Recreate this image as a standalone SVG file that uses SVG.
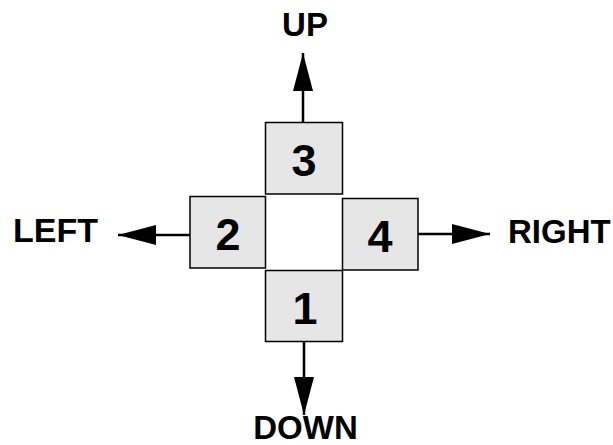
<svg xmlns="http://www.w3.org/2000/svg" width="613" height="445" viewBox="0 0 613 445">
<style>
.box{fill:#e6e6e6;stroke:#000;stroke-width:1.5}
.num{font-family:"Liberation Sans",Arial,sans-serif;font-weight:bold;font-size:45px;text-anchor:middle;fill:#000}
.lbl{font-family:"Liberation Sans",Arial,sans-serif;font-weight:bold;font-size:33px;fill:#000}
.conn{stroke:#000;stroke-width:2.5;fill:none}
</style>
<defs>
<marker id="ah" viewBox="0 0 38 20" refX="38" refY="10" markerWidth="38" markerHeight="20" markerUnits="userSpaceOnUse" orient="auto">
<path d="M0,0 L38,10 L0,20 Z" fill="#000"/>
</marker>
</defs>
<rect width="613" height="445" fill="#fff"/>
<g id="connectors">
<line class="conn" x1="303" y1="122" x2="303" y2="53" marker-end="url(#ah)"/>
<line class="conn" x1="304" y1="342" x2="304" y2="415" marker-end="url(#ah)"/>
<line class="conn" x1="190" y1="235" x2="118" y2="235" marker-end="url(#ah)"/>
<line class="conn" x1="418" y1="234" x2="490" y2="234" marker-end="url(#ah)"/>
</g>
<g id="node3"><rect class="box" x="265.5" y="122.5" width="77" height="71.5"/><text class="num" x="304" y="176">3</text></g>
<g id="node2"><rect class="box" x="190" y="196.5" width="75.5" height="71.5"/><text class="num" x="228" y="250">2</text></g>
<g id="node4"><rect class="box" x="342.5" y="198.5" width="75.5" height="71.5"/><text class="num" x="380" y="252">4</text></g>
<g id="node1"><rect class="box" x="265.5" y="270.5" width="77" height="71"/><text class="num" x="305" y="324">1</text></g>
<g id="labels">
<text class="lbl" x="305" y="36" text-anchor="middle">UP</text>
<text class="lbl" x="305.5" y="439" text-anchor="middle">DOWN</text>
<text class="lbl" x="13" y="242" style="font-size:34px">LEFT</text>
<text class="lbl" x="508" y="243">RIGHT</text>
</g>
</svg>
